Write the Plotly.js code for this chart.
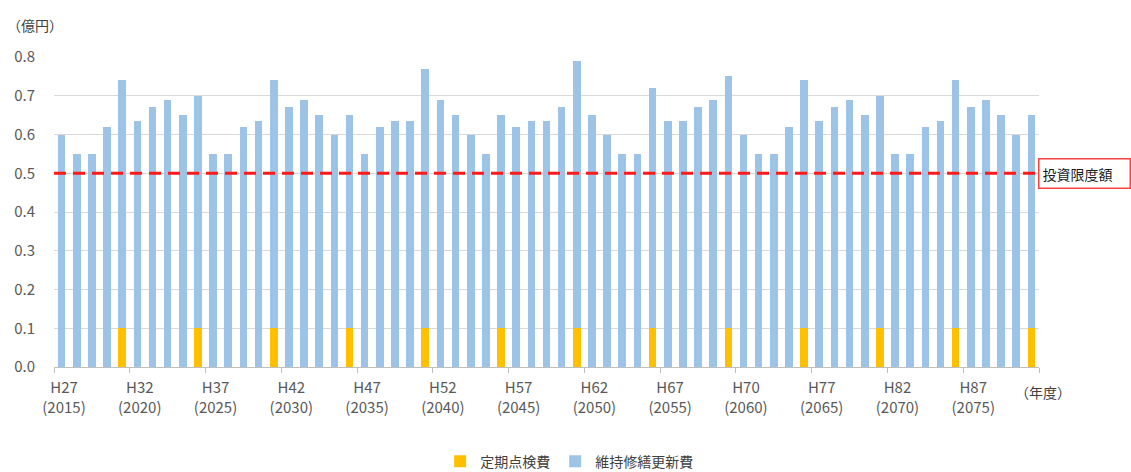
<!DOCTYPE html>
<html>
<head>
<meta charset="utf-8">
<script src="https://cdn.plot.ly/plotly-3.0.1.min.js"></script>
<style>
  html, body { margin: 0; padding: 0; background: #ffffff; }
  #chart { width: 1131px; height: 472px; }
</style>
</head>
<body>
<div id="chart"></div>
<script>
// Fiscal years (西暦) for each bar
const years = [
  2015, 2016, 2017, 2018, 2019, 2020, 2021, 2022, 2023, 2024,
  2025, 2026, 2027, 2028, 2029, 2030, 2031, 2032, 2033, 2034,
  2035, 2036, 2037, 2038, 2039, 2040, 2041, 2042, 2043, 2044,
  2045, 2046, 2047, 2048, 2049, 2050, 2051, 2052, 2053, 2054,
  2055, 2056, 2057, 2058, 2059, 2060, 2061, 2062, 2063, 2064,
  2065, 2066, 2067, 2068, 2069, 2070, 2071, 2072, 2073, 2074,
  2075, 2076, 2077, 2078, 2079
];

// 定期点検費 (億円)
const inspectionCost = [
  0, 0, 0, 0, 0.1, 0, 0, 0, 0, 0.1,
  0, 0, 0, 0, 0.1, 0, 0, 0, 0, 0.1,
  0, 0, 0, 0, 0.1, 0, 0, 0, 0, 0.1,
  0, 0, 0, 0, 0.1, 0, 0, 0, 0, 0.1,
  0, 0, 0, 0, 0.1, 0, 0, 0, 0, 0.1,
  0, 0, 0, 0, 0.1, 0, 0, 0, 0, 0.1,
  0, 0, 0, 0, 0.1
];

// 維持修繕更新費 (億円)
const maintenanceCost = [
  0.60, 0.55, 0.55, 0.62, 0.64, 0.635, 0.67, 0.69, 0.65, 0.60,
  0.55, 0.55, 0.62, 0.635, 0.64, 0.67, 0.69, 0.65, 0.60, 0.55,
  0.55, 0.62, 0.635, 0.635, 0.67, 0.69, 0.65, 0.60, 0.55, 0.55,
  0.62, 0.635, 0.635, 0.67, 0.69, 0.65, 0.60, 0.55, 0.55, 0.62,
  0.635, 0.635, 0.67, 0.69, 0.65, 0.60, 0.55, 0.55, 0.62, 0.64,
  0.635, 0.67, 0.69, 0.65, 0.60, 0.55, 0.55, 0.62, 0.635, 0.64,
  0.67, 0.69, 0.65, 0.60, 0.55
];

// 投資限度額 (億円)
const investmentLimit = 0.5;

// Axis labels, one every five years
const tickLabels = [
  'H27<br>(2015)', 'H32<br>(2020)', 'H37<br>(2025)', 'H42<br>(2030)',
  'H47<br>(2035)', 'H52<br>(2040)', 'H57<br>(2045)', 'H62<br>(2050)',
  'H67<br>(2055)', 'H70<br>(2060)', 'H77<br>(2065)', 'H82<br>(2070)',
  'H87<br>(2075)'
];

const yTicks = [0, 0.1, 0.2, 0.3, 0.4, 0.5, 0.6, 0.7, 0.8];

// Tick marks sit on the boundary before every fifth year, plus the closing edge
const boundaryTicks = years.filter((y, i) => i % 5 === 0).map(y => y - 0.5);
boundaryTicks.push(years[years.length - 1] + 0.5);
const boundaryText = tickLabels.concat(['']);

const FONT = '"Noto Sans CJK JP", "Noto Sans", sans-serif';

const traces = [
  {
    type: 'bar',
    name: '定期点検費',
    x: years,
    y: inspectionCost,
    marker: { color: '#ffc000' },
    hoverinfo: 'skip'
  },
  {
    type: 'bar',
    name: '維持修繕更新費',
    x: years,
    y: maintenanceCost,
    marker: { color: '#9dc3e6' },
    hoverinfo: 'skip'
  }
];

const layout = {
  width: 1131,
  height: 472,
  margin: { l: 54, r: 92, t: 57, b: 105, pad: 0, autoexpand: false },
  paper_bgcolor: '#ffffff',
  plot_bgcolor: '#ffffff',
  font: { family: FONT, color: '#595959', size: 13 },
  barmode: 'stack',
  bargap: 0.5,
  showlegend: true,
  xaxis: {
    type: 'linear',
    range: [years[0] - 0.5, years[years.length - 1] + 0.5],
    tickmode: 'array',
    tickvals: boundaryTicks,
    ticktext: boundaryText,
    ticks: 'outside',
    ticklen: 5,
    tickwidth: 1,
    tickcolor: '#bfbfbf',
    ticklabelshift: 10,
    ticklabelstandoff: 2,
    tickfont: { family: FONT, size: 15, color: '#595959' },
    showline: true,
    linecolor: '#bfbfbf',
    linewidth: 1,
    showgrid: false,
    zeroline: false,
    automargin: false,
    fixedrange: true
  },
  yaxis: {
    range: [0, 0.8],
    tickmode: 'array',
    tickvals: yTicks,
    tickformat: '.1f',
    ticks: '',
    ticklabelstandoff: 18,
    tickfont: { family: FONT, size: 15, color: '#595959' },
    showgrid: true,
    gridcolor: '#d9d9d9',
    gridwidth: 1,
    zeroline: false,
    showline: false,
    automargin: false,
    fixedrange: true
  },
  legend: {
    orientation: 'h',
    x: 0.523,
    xanchor: 'center',
    y: -0.305,
    yanchor: 'middle',
    traceorder: 'normal',
    font: { family: FONT, size: 14, color: '#404040' },
    bgcolor: 'rgba(0,0,0,0)'
  },
  shapes: [
    {
      type: 'line',
      xref: 'paper', x0: 0, x1: 1,
      yref: 'y', y0: investmentLimit, y1: investmentLimit,
      line: { color: '#ff1a1a', width: 3, dash: '12px,7px' }
    }
  ],
  annotations: [
    {
      text: '（億円）',
      xref: 'paper', x: -0.05, xanchor: 'left',
      yref: 'paper', y: 1.103, yanchor: 'middle',
      showarrow: false,
      font: { family: FONT, size: 14, color: '#404040' }
    },
    {
      text: '（年度）',
      xref: 'paper', x: 0.974, xanchor: 'left',
      yref: 'paper', y: -0.081, yanchor: 'middle',
      showarrow: false,
      font: { family: FONT, size: 14, color: '#404040' }
    },
    {
      text: '投資限度額',
      xref: 'paper', x: 0.999, xanchor: 'left',
      yref: 'y', y: investmentLimit, yanchor: 'middle',
      showarrow: false,
      align: 'left',
      width: 84,
      height: 22,
      bgcolor: '#ffffff',
      bordercolor: '#ff4040',
      borderwidth: 1.5,
      borderpad: 3,
      font: { family: FONT, size: 14, color: '#1a1a1a' }
    }
  ]
};

Plotly.newPlot('chart', traces, layout, { displayModeBar: false, staticPlot: true });
</script>
</body>
</html>
